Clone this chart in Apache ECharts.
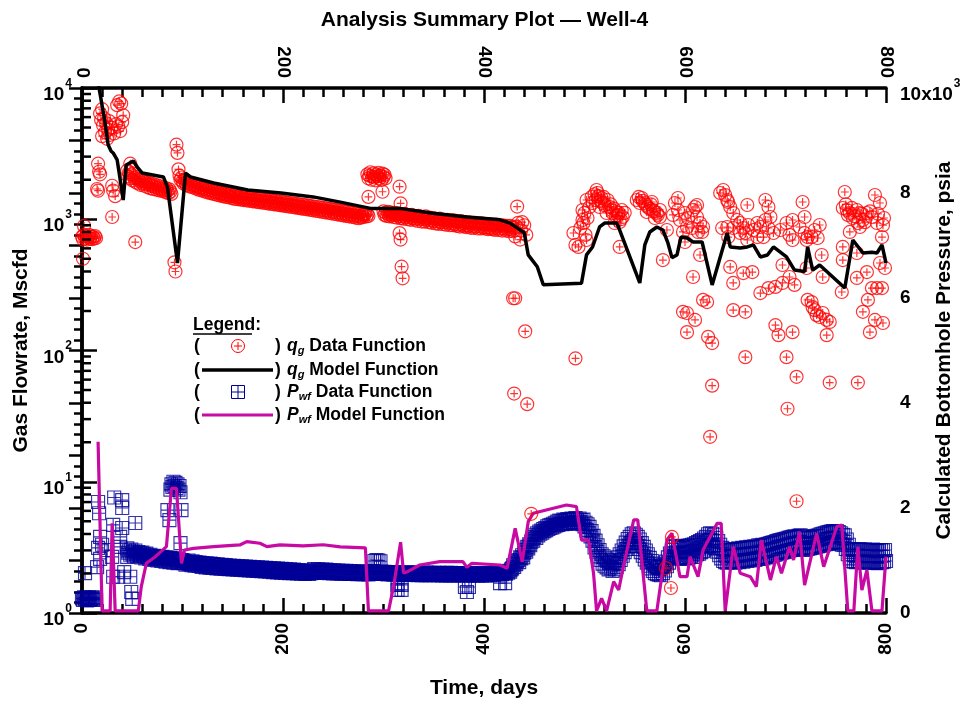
<!DOCTYPE html>
<html><head><meta charset="utf-8">
<script src="https://cdn.jsdelivr.net/npm/echarts@6/dist/echarts.min.js"></script>
<style>html,body{margin:0;padding:0;background:#fff}#c{width:969px;height:704px}</style>
</head><body><div id="c"></div>
<script>
// ---------------- data ----------------
const timeTicks = [0, 200, 400, 600, 800];
const pressureLabels = ['0', '2', '4', '6', '8', '10x10^3'];
const logMinorTicks = [2,3,4,5,6,7,8,9,20,30,40,50,60,70,80,90,200,300,400,500,600,700,800,900,2000,3000,4000,5000,6000,7000,8000,9000];

// q_g data: daily-sampled bands (first day + one value per day), Mscfd
const qgBandA_start = 45;
const qgBandA = [2350,2120,2280,2050,2190,1980,2240,2060,1930,2100,
1890,2040,1960,1830,2010,1880,1950,1800,1920,1850,
1760,1900,1830,1720,1870,1790,1700,1840,1760,1680,
1810,1730,1660,1780,1700,1640,1750,1680,1610,1720,
1650,1580,1690,1620,1560];
const qgBandB_start = 99;
const qgBandB = [2080,1950,1870,2010,1900,1820,1940,1860,1780,1890,
1830,1750,1860,1790,1720,1810,1760,1680,1790,1720,
1660,1750,1700,1630,1730,1670,1600,1700,1650,1580,
1680,1620,1560,1650,1600,1540,1630,1580,1520,1610,
1560,1500,1590,1540,1480,1570,1520,1470,1550,1500,
1450,1540,1490,1430,1520,1470,1420,1500,1460,1410,
1490,1440,1400,1480,1430,1390,1470,1420,1380,1460,
1410,1370,1450,1400,1360,1440,1390,1350,1430,1380,
1340,1420,1370,1330,1410,1360,1320,1400,1350,1310,
1390,1340,1300,1380,1330,1290,1370,1320,1280,1360,
1310,1270,1350,1300,1260,1340,1290,1250,1330,1280,
1240,1320,1270,1230,1310,1260,1220,1300,1250,1210,
1290,1240,1200,1280,1230,1190,1270,1220,1180,1260,
1210,1170,1250,1200,1160,1240,1190,1150,1230,1180,
1140,1220,1170,1130,1210,1160,1120,1200,1150,1110,
1190,1140,1100,1180,1130,1090,1170,1120,1080,1160,
1110,1070,1150,1100,1060,1140,1090,1050,1130,1080,
1040,1120,1070,1030,1110,1060,1020,1100,1050,1030,
1090,1040,1080,1110,1050,1090,1060];
const qgBandC_start = 284;
const qgBandC = [2200,2050,2150,2280,2000,2120,2240,2080,1980,2200,2120,2260,2050,2150,1990,2230,2100,2180,2050];
const qgBandD_start = 300;
const qgBandD = [1150,1080,1120,1060,1140,1090,1050,1130,1070,1110,
1040,1120,1080,1030,1110,1060,1100,1020,1090,1050,
1010,1100,1040,1080,1000,1070,1030,990,1080,1020,
1060,990,1050,1010,970,1060,1000,1040,960,1030,
1000,960,1050,990,1020,950,1030,980,940,1020,
970,1010,930,1000,960,920,1010,950,990,920,
990,950,910,990,940,970,900,980,930,900,
980,920,960,890,960,910,880,970,910,940,
880,950,900,870,950,890,930,860,940,890,
860,940,880,920,850,930,880,850,930,870,
910,850,920,870,840,920,860,900,840,910,
860,830,910,860,890,830,900,850,820,900,
850,880,820,890,840,810,890,840,870,810,860];
// q_g data: individual points (day, Mscfd)
const qgPoints = [
[0,735],[1,700],[1,500],[2,890],[2,760],[3,715],[4,745],[5,700],[6,730],[7,760],[8,710],[9,740],[10,705],[11,735],[12,715],[13,745],[14,720],
[15,1700],[16,2650],[16,1650],[17,2300],[18,2200],[18,6400],[19,5700],[20,6900],[20,4300],[21,5200],[22,5900],[23,4600],[24,5400],[25,4100],[26,4800],[27,5600],[28,4400],[29,5000],[30,1800],[30,1040],[31,1650],[32,4500],[33,1500],[34,5300],[35,7400],[36,5100],[37,7900],[38,4700],[39,7600],[40,5500],[41,6200],[53,670],[48,2650],
[92,470],[93,400],[94,3700],[95,3200],[96,2400],[97,2150],[98,2000],
[285,1480],[299,1620],
[316,1770],[317,1320],[316,785],[317,700],[318,435],[319,355],
[431,740],[433,1250],[434,940],[436,700],[438,950],[440,900],[442,760],[432,880],[437,820],
[429,250],[431,250],[441,140],[430,47],[443,39],[447,5.7],[491,87],
[489,786],[491,637],[494,615],[498,987],[499,936],[500,1116],[502,695],[503,1022],[498,1176],[496,860],[501,760],
[502,1402],[507,1477],[512,1671],[513,1585],[517,1452],[518,1330],[523,1402],[525,1240],[527,1176],[528,1116],[532,1136],[533,1078],[537,1176],[538,1040],[535,953],[530,936],[522,1116],[515,1240],[508,1330],[505,1240],[535,615],
[510,1550],[514,1500],[516,1380],[520,1280],[526,1300],[529,1210],[531,1060],[534,1120],[536,1000],[540,1120],[511,1400],[519,1480],
[552,1402],[557,1452],[560,1330],[563,1240],[568,1176],[572,1116],[575,1040],[567,1353],[555,1330],[562,1136],[570,1022],[575,1176],[578,489],[582,828],
[554,1480],[558,1380],[561,1290],[565,1200],[566,1300],[569,1150],[573,1080],
[593,1452],[590,1330],[593,1176],[588,1078],[595,987],[600,1116],[603,1022],[608,1176],[610,1240],[612,1040],[615,936],[618,873],[617,800],[613,800],[607,858],[602,873],[598,800],[600,671],[612,1284],[615,534],[608,363],
[602,193],[610,171],[602,138],[618,243],[622,234],[623,127],[627,114],[598,197],[627,54],[625,22],
[635,1585],[638,1671],[642,1402],[640,1530],[645,1240],[643,1353],[648,1116],[652,987],[655,936],[658,858],[660,786],[663,904],[668,828],[672,936],[675,873],[680,987],[685,1040],[683,858],[688,786],[678,732],[672,732],[662,695],[655,786],[648,858],[642,873],[643,732],[662,1284],[680,1402],[683,1240],[637,858],
[645,433],[648,327],[658,389],[667,396],[648,203],[660,197],[660,89],
[675,274],[683,299],[690,305],[697,327],[704,363],[709,316],[697,448],[690,156],[693,131],[707,138],[701,89],[711,63],[702,36],[711,7.1],
[695,828],[701,936],[707,987],[714,873],[719,786],[722,732],[721,695],[726,732],[729,828],[734,904],[732,720],[707,695],[704,760],[719,1040],[717,1353],
[736,534],[737,363],[721,425],[722,243],[726,234],[727,214],[729,203],[731,186],[734,180],[737,193],[741,171],[744,165],[741,131],[744,57],[756,279],
[759,1613],[757,1218],[761,1176],[764,1116],[767,1022],[771,1176],[774,1116],[777,987],[772,936],[781,1116],[786,1040],[789,1530],[794,1330],[791,936],[798,1022],[796,732],[764,800],[774,873],[757,615],[757,489],[771,553],[771,357],[781,396],[786,299],[791,299],[796,299],[782,243],[777,197],[789,171],[784,138],[797,162],[772,57],[794,464],[799,425],
[760,1300],[762,1080],[766,1220],[769,1050],[776,1100],[779,950],[784,1150],[792,1100],[797,900],
[587,3.8],[581,2.2],[586,1.55]
];

// q_g model (day, Mscfd)
const qgModel = [
[16,11000],[19,8150],[23,5400],[26,3700],[29,3300],[31,3200],[35,2830],[37,2250],[41,1400],[44,2590],[51,2780],[55,2500],[60,2250],[81,2100],[85,1760],[95,464],[103,2250],[108,2100],[131,1890],[165,1670],[198,1585],[230,1480],[257,1350],[287,1210],[316,1210],[349,1110],[383,1040],[416,990],[426,935],[433,860],[440,790],[444,535],[453,435],[459,317],[497,325],[502,535],[508,615],[515,873],[520,936],[532,936],[535,828],[555,327],[560,637],[565,800],[572,873],[578,828],[583,660],[587,510],[592,534],[596,732],[602,720],[608,671],[617,671],[627,316],[642,786],[645,615],[655,605],[662,615],[668,637],[675,516],[682,534],[688,615],[701,516],[709,410],[719,400],[722,615],[727,410],[734,448],[759,299],[767,695],[777,553],[786,560],[791,553],[796,637],[800,464]
];

// P_wf data: daily-sampled bands (first day + one value per day), psia
const pwfBandA_start = 45;
const pwfBandA = [1230,1150,1190,1110,1210,1130,1170,1090,1190,1120,
1080,1160,1100,1140,1060,1150,1090,1120,1040,1130,
1070,1100,1030,1110,1050,1080,1010,1090,1040,1070,
1000,1080,1030,1060,990,1070,1020,1050,980,1060,
1010,1040,970,1050,1000,1030,960,1040,990,1020,950,1030,980,1010,960,
1010,950,990,920,975,940,1000,930,960,910,
985,935,900,970,925,955,895,960,915,880,
950,905,935,870,945,895,925,865,940,890,
860,930,880,915,850,925,875,905,845,920,
870,900,840,915,860,890,835,905,855,880,
830,900,850,875,825,895,845,870,820,890,
840,865,815,885,835,860,810,880,830,855,
805,875,825,850,800,870,820,845,795,865,
815,840,790,860,810,835,785,855,805,830,
780,850,800,825,775,845,795,820,770,840,
790,815,765,835,785,810,760,830,780,805,
760,825,775,800,755,820,770,795,750,815,
770,790,745,810,765,785,745,805,760,780,
775,835,790,815,770,830,785,810,765,825,
780,805,765,825,775,800,760,820,775,795,
755,815,770,795,755,810,765,790,750,805,
760,785,750,805,760,780,745,800,755,780,
745,795,755,775,740,795,750,775,740,790,
765,740,780,745,770,735,790,760,775,800,
800,760,785,750,775,745,780,755,790,770,
745,785,750,770,735,780,745,775,740,765,
730,780,745,765,730,775,740,760,725,770,
740,760,725,775,740,760,725,770,740,755,
725,770,735,755,720,770,735,755,720,765,
735,755,720,770,735,755,720,765,735,750,
720,765,735,750,720,765,735,750,715,760,
730,750,715,765,730,750,715,765,730,745,
715,760,730,745,715,760,730,745,715,755,
730,745,715,760,730,745,710,755,730,745,
715,755,730,740,710,755,730,745,715,750,
730,745,715,755,730,745,715,760,735,750,
730,765,740,755,735,770,745,760,740,780,
760,775,750,795,770,805,785,830];
const pwfBandB_start = 428;
const pwfBandB = [850,910,880,960,930,990,1010,970,1060,1040,
1100,1060,1150,1200,1170,1260,1230,1310,1290,1360,
1410,1380,1450,1490,1430,1520,1480,1550,1510,1570,
1530,1600,1560,1620,1580,1650,1600,1670,1620,1680,
1630,1700,1650,1720,1670,1740,1680,1760,1700,1750,
1690,1780,1710,1770,1700,1790,1720,1780,1710,1800,
1730,1790,1700,1810,1740,1780,1710,1800,1730,1770,
1690,1780,1650,1720,1580,1690,1520,1640,1460,1560,
1380,1470,1250,1380,1170,1290,1080,1200,1010,1120,
940,1080,900,1040,870,1010,830,980,850,960,
800,950,830,1000,880,1060,930,1120,1010,1190,
1090,1270,1160,1340,1220,1410,1270,1450,1330,1500,
1360,1520,1330,1490,1280,1450,1220,1400,1160,1330,
1090,1260,1020,1190,960,1120,900,1050,850,990,
800,940,760,900,740,880,730,870,720,880,
760,920,810,980,890,1060,960,1130,1040,1200,
1080,1260,1100,1280,1070,1250,1040,1230,1060,1270,
1030,1240,1050,1260,1040,1280,1060,1290,1080,1300,
1070,1310,1100,1330,1120,1350,1130,1370,1160,1390,
1180,1420,1210,1450,1250,1500,1280,1520,1300,1510,
1270,1490,1240,1430,1170,1370,1100,1300,1040,1240,
990,1210,970,1200,960,1190,980,1210,970,1200,
980,1220,960,1210,990,1230,970,1220,1000,1240,
980,1230,1010,1250,990,1240,1020,1260,1000,1250,
1030,1270,1010,1260,1040,1290,1030,1280,1060,1300,
1040,1290,1070,1310,1060,1320,1080,1330,1090,1340,
1100,1350,1110,1370,1130,1380,1140,1390,1150,1400,
1160,1410,1170,1420,1180,1430,1190,1440,1200,1450,
1210,1460,1220,1440,1230,1470,1240,1480,1250,1460,
1200,1430,1210,1420,1220,1440,1230,1430,1240,1450,
1250,1460,1260,1470,1270,1480,1280,1500,1290,1510,
1300,1520,1310,1530,1320,1540,1330,1550,1340,1560,
1350,1550,1360,1560,1340,1540,1320,1520,1300,1490,
1300,1480,1220,1400,1120,1300,1040,1220,990,1200,
980,1210,970,1200,990,1220,980,1210,970,1200,
960,1210,980,1200,970,1190,960,1200,980,1210,
970,1190,960,1180,950,1190,960,1200,970,1190,
980,1200,990];
// P_wf data: individual points (day, psia)
const pwfPoints = [
[0,280],[1,250],[2,300],[3,260],[3,760],[4,290],[5,240],[6,280],[7,300],[8,250],[9,270],[10,290],[11,260],[12,280],[13,300],[14,250],
[15,875],[16,2115],[16,1240],[17,1900],[18,1450],[18,1030],[20,1300],[25,1200],[30,1070],[31,1680],[31,690],[32,2200],[36,690],[38,1450],[38,1260],[40,2150],[40,2000],[40,1620],[42,780],[45,1070],[48,690],[49,400],[50,270],[53,1715],
[88,2350],[89,2450],[90,2400],[91,2500],[92,2420],[93,2480],[94,2380],[95,2450],[96,2350],[97,2420],[98,2300],[85,1960],[87,1770],[99,1960],[98,1330],
[291,990],[293,1010],[295,1000],[297,985],
[314,535],[318,535],[314,440],[318,440],[381,495],[385,495],[383,400],[416,570],[421,570]
];

// P_wf model (day, psia)
const pwfModel = [
[16,3263],[20,40],[28,40],[30,1708],[33,40],[56,40],[59,502],[64,946],[73,1073],[84,1264],[89,2375],[94,2375],[99,946],[102,1200],[111,1232],[131,1264],[157,1296],[164,1360],[177,1328],[184,1264],[197,1296],[220,1280],[240,1300],[257,1260],[282,1240],[285,40],[305,40],[310,500],[317,1350],[320,760],[323,780],[336,914],[356,978],[379,978],[383,870],[388,946],[416,914],[423,851],[431,1613],[438,978],[444,1740],[449,1900],[462,1962],[482,2057],[492,2025],[497,1390],[504,1390],[509,756],[512,40],[517,280],[522,40],[529,597],[534,438],[539,914],[549,1772],[553,1772],[562,40],[572,40],[582,1390],[587,1518],[595,692],[602,692],[605,1073],[613,692],[618,1200],[625,1454],[632,1708],[636,1708],[640,40],[648,1264],[655,756],[665,692],[671,502],[676,1390],[685,629],[691,1073],[696,756],[704,1264],[708,1010],[714,1550],[719,533],[731,1518],[738,883],[751,1645],[756,1677],[762,40],[768,40],[772,1264],[776,438],[781,819],[786,40],[796,40],[800,1073]
];

// ---------------- chart ----------------
function daily(start, vals) { return vals.map((v, i) => [start + i, v]); }
const qgAll = [].concat(qgPoints, daily(qgBandA_start, qgBandA), daily(qgBandB_start, qgBandB),
  daily(qgBandC_start, qgBandC), daily(qgBandD_start, qgBandD));
const pwfAll = [].concat(pwfPoints, daily(pwfBandA_start, pwfBandA), daily(pwfBandB_start, pwfBandB));

const FONT = '"Liberation Sans", Arial, Helvetica, sans-serif';
const BLK = '#000';
const RED = '#ff0000';
const BLUE = '#000099';
const MAG = '#c80aa5';
const circlePlus = 'path://M0,-7A7,7,0,1,1,0,7A7,7,0,1,1,0,-7ZM-4.2,0L4.2,0M0,-4.2L0,4.2';
const squarePlus = 'path://M-7,-7L7,-7L7,7L-7,7ZM-7,0L7,0M0,-7L0,7';

const tickLabel = {color: BLK, fontFamily: FONT, fontSize: 19, fontWeight: 'bold'};
const supRich = {
  b: {color: BLK, fontFamily: FONT, fontSize: 19, fontWeight: 'bold', lineHeight: 20, verticalAlign: 'bottom'},
  s: {color: BLK, fontFamily: FONT, fontSize: 12, fontWeight: 'bold', verticalAlign: 'top', padding: [6, 0, 15, 1]},
  c: {color: BLK, fontFamily: FONT, fontSize: 19, fontWeight: 'bold'}
};
const axisLine = {show: true, lineStyle: {color: BLK, width: 3.5}};
const nameStyle = {color: BLK, fontFamily: FONT, fontSize: 21, fontWeight: 'bold'};
const LF = 'bold 17.5px ' + FONT;

function xAxisDef(pos) {
  return {
    type: 'value', min: timeTicks[0], max: timeTicks[timeTicks.length - 1], interval: timeTicks[1] - timeTicks[0],
    position: pos,
    axisLine: axisLine,
    axisTick: {show: true, inside: true, length: 15, lineStyle: {color: BLK, width: 2.5}},
    minorTick: {show: true, splitNumber: 10, length: 9, lineStyle: {color: BLK, width: 2.5}},
    splitLine: {show: false}, minorSplitLine: {show: false},
    axisLabel: Object.assign({rotate: 90, margin: 10}, tickLabel),
    nameMoveOverlap: false
  };
}

function legendText(sym, sub, rest) {
  return {
    text: '{i|' + sym + '}{s|' + sub + '}{t| ' + rest + '}',
    verticalAlign: 'middle', textVerticalAlign: 'middle',
    rich: {
      i: {font: 'italic ' + LF, fill: BLK, lineHeight: 20},
      s: {font: 'italic bold 11px ' + FONT, fill: BLK, verticalAlign: 'bottom'},
      t: {font: LF, fill: BLK, lineHeight: 20}
    }
  };
}
function paren(ch, x, y) {
  return {type: 'text', x: x, y: y, style: {text: ch, font: LF, fill: BLK, verticalAlign: 'middle', textVerticalAlign: 'middle'}};
}

const chart = echarts.init(document.getElementById('c'), null, {renderer: 'canvas'});
chart.setOption({
  animation: false,
  backgroundColor: '#fff',
  title: {text: 'Analysis Summary Plot — Well-4', left: 'center', top: 5,
    textStyle: {color: BLK, fontFamily: FONT, fontSize: 21, fontWeight: 'bold'}},
  grid: {left: 82, right: 83, top: 88, bottom: 91, containLabel: false, outerBoundsMode: 'none'},
  xAxis: [
    Object.assign(xAxisDef('bottom'), {name: 'Time, days', nameLocation: 'middle', nameGap: 65, nameTextStyle: nameStyle}),
    xAxisDef('top')
  ],
  yAxis: [
    {
      type: 'log', logBase: 10, min: 1, max: 10000, position: 'left',
      axisLine: axisLine,
      axisTick: {show: true, inside: true, length: 15, lineStyle: {color: BLK, width: 2.5}},
      splitLine: {show: false},
      axisLabel: {margin: 10, rich: supRich, formatter: v => '{b|10}{s|' + Math.round(Math.log10(v)) + '}'},
      name: 'Gas Flowrate, Mscfd', nameLocation: 'middle', nameGap: 50, nameRotate: 90, nameTextStyle: nameStyle,
      nameMoveOverlap: false
    },
    {
      type: 'value', min: 0, max: 10000, interval: 1000, position: 'right',
      axisLine: axisLine,
      axisTick: {show: true, inside: true, length: 13, lineStyle: {color: BLK, width: 2.5}},
      minorTick: {show: true, splitNumber: 5, length: 8, lineStyle: {color: BLK, width: 2.5}},
      splitLine: {show: false}, minorSplitLine: {show: false},
      axisLabel: {margin: 14, rich: supRich, formatter: v => {
        if (v % 2000 !== 0) return '';
        const t = pressureLabels[v / 2000];
        if (t.indexOf('^') >= 0) { const p = t.split('^'); return '{b|' + p[0] + '}{s|' + p[1] + '}'; }
        return '{c|' + t + '}';
      }},
      name: 'Calculated Bottomhole Pressure, psia', nameLocation: 'middle', nameGap: 48, nameRotate: 90, nameTextStyle: nameStyle,
      nameMoveOverlap: false
    }
  ],
  series: [
    {type: 'scatter', name: 'Pwf data', xAxisIndex: 0, yAxisIndex: 1, data: pwfAll, symbol: squarePlus, symbolSize: 13,
      itemStyle: {color: 'rgba(255,255,255,0)', borderColor: BLUE, borderWidth: 1.15}, silent: true, z: 2, large: false},
    {type: 'line', name: 'Pwf model', xAxisIndex: 0, yAxisIndex: 1, data: pwfModel, showSymbol: false, symbol: 'none',
      lineStyle: {color: MAG, width: 3.2}, silent: true, z: 3},
    {type: 'scatter', name: 'qg data', xAxisIndex: 0, yAxisIndex: 0, data: qgAll, symbol: circlePlus, symbolSize: 13,
      itemStyle: {color: 'rgba(255,255,255,0)', borderColor: RED, borderWidth: 1.2}, silent: true, z: 4, large: false},
    {type: 'line', name: 'qg model', xAxisIndex: 0, yAxisIndex: 0, data: qgModel, showSymbol: false, symbol: 'none',
      lineStyle: {color: BLK, width: 3.5}, silent: true, z: 5, clip: true},
    {type: 'custom', name: 'log minor ticks', xAxisIndex: 0, yAxisIndex: 0, silent: true, z: 6, clip: false,
      data: logMinorTicks.map(v => [0, v]),
      renderItem: (params, api) => {
        const p = api.coord([0, api.value(1)]);
        return {type: 'line', shape: {x1: p[0], y1: p[1], x2: p[0] + 9, y2: p[1]}, style: {stroke: BLK, lineWidth: 2.5}};
      }}
  ],
  graphic: {elements: [
    {type: 'text', x: 193, y: 325, style: {text: 'Legend:', font: LF, fill: BLK, verticalAlign: 'middle', textVerticalAlign: 'middle'}},
    {type: 'line', shape: {x1: 193, y1: 334, x2: 252, y2: 334}, style: {stroke: BLK, lineWidth: 1.6}},
    paren('(', 194, 346),
    {type: 'circle', shape: {cx: 238, cy: 346, r: 6.5}, style: {fill: 'none', stroke: RED, lineWidth: 1}},
    {type: 'line', shape: {x1: 234, y1: 346, x2: 242, y2: 346}, style: {stroke: RED, lineWidth: 1}},
    {type: 'line', shape: {x1: 238, y1: 342, x2: 238, y2: 350}, style: {stroke: RED, lineWidth: 1}},
    paren(')', 275, 346),
    paren('(', 194, 370),
    {type: 'line', shape: {x1: 202, y1: 370, x2: 273, y2: 370}, style: {stroke: BLK, lineWidth: 3.5}},
    paren(')', 275, 370),
    paren('(', 194, 392),
    {type: 'rect', shape: {x: 231.5, y: 385.5, width: 13, height: 13}, style: {fill: 'none', stroke: BLUE, lineWidth: 1}},
    {type: 'line', shape: {x1: 231.5, y1: 392, x2: 244.5, y2: 392}, style: {stroke: BLUE, lineWidth: 1}},
    {type: 'line', shape: {x1: 238, y1: 385.5, x2: 238, y2: 398.5}, style: {stroke: BLUE, lineWidth: 1}},
    paren(')', 275, 392),
    paren('(', 194, 415),
    {type: 'line', shape: {x1: 202, y1: 415, x2: 273, y2: 415}, style: {stroke: MAG, lineWidth: 3.2}},
    paren(')', 275, 415),
    {type: 'text', x: 287, y: 346, style: legendText('q', 'g', 'Data Function')},
    {type: 'text', x: 287, y: 370, style: legendText('q', 'g', 'Model Function')},
    {type: 'text', x: 287, y: 392, style: legendText('P', 'wf', 'Data Function')},
    {type: 'text', x: 287, y: 415, style: legendText('P', 'wf', 'Model Function')}
  ]}
});
</script>
</body></html>
